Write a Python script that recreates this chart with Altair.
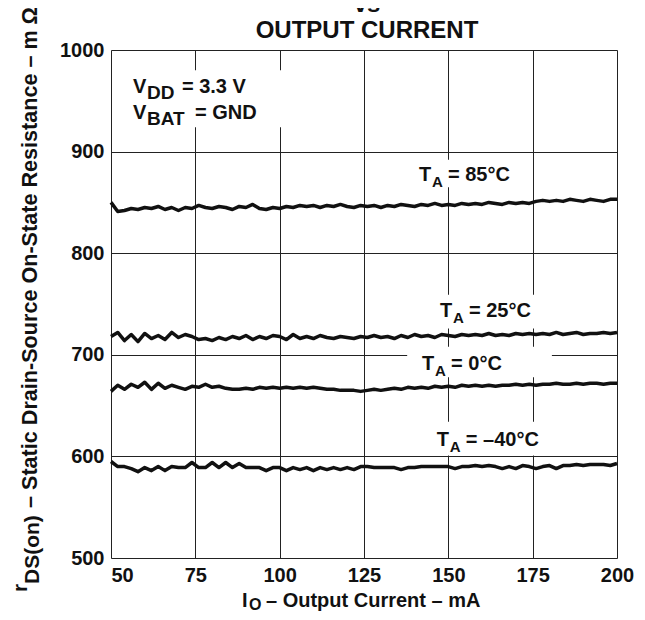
import altair as alt
import pandas as pd

# ---------------- data ----------------
current_ma = list(range(50, 201, 2))  # sampling grid, 2 mA steps

r_85C = [850, 841, 842, 844, 843, 845, 844, 846, 843, 845, 842, 845, 844, 847, 845, 844,
         846, 845, 843, 846, 845, 848, 844, 843, 845, 844, 846, 845, 847, 846, 847, 845,
         847, 846, 848, 846, 845, 847, 846, 847, 845, 847, 846, 848, 847, 846, 848, 847,
         849, 847, 848, 847, 849, 848, 849, 848, 850, 849, 848, 850, 849, 850, 849, 851,
         852, 851, 852, 851, 853, 852, 851, 853, 852, 851, 853, 853]

r_25C = [718, 722, 714, 720, 713, 721, 716, 719, 715, 722, 717, 720, 718, 715, 716, 714,
         717, 715, 718, 716, 719, 715, 718, 716, 719, 718, 715, 720, 716, 718, 716, 719,
         717, 716, 718, 717, 716, 718, 717, 719, 717, 718, 716, 719, 717, 720, 718, 719,
         717, 720, 719, 718, 720, 719, 720, 719, 721, 719, 720, 719, 721, 720, 721, 720,
         721, 720, 722, 720, 721, 722, 720, 721, 721, 722, 721, 722]

r_0C = [664, 670, 666, 671, 668, 673, 666, 672, 667, 670, 668, 666, 669, 668, 671, 668,
        669, 667, 666, 666, 667, 666, 668, 667, 668, 667, 668, 667, 668, 667, 668, 667,
        666, 666, 665, 665, 665, 664, 665, 666, 665, 666, 667, 666, 668, 667, 668, 667,
        669, 668, 669, 668, 670, 669, 670, 669, 670, 669, 670, 670, 671, 670, 671, 670,
        671, 671, 672, 671, 671, 672, 671, 672, 672, 671, 672, 672]

r_m40C = [595, 590, 590, 588, 585, 589, 586, 590, 586, 590, 589, 589, 594, 589, 589, 594,
          589, 594, 589, 593, 589, 589, 589, 586, 589, 589, 586, 589, 587, 589, 586, 589,
          587, 589, 587, 589, 587, 590, 590, 589, 589, 589, 589, 587, 589, 589, 590, 590,
          590, 590, 590, 588, 590, 590, 591, 590, 591, 590, 588, 590, 588, 591, 590, 588,
          590, 591, 588, 591, 591, 592, 591, 592, 592, 592, 591, 593]

series = {"85": r_85C, "25": r_25C, "0": r_0C, "-40": r_m40C}

rows = []
for name, vals in series.items():
    for xv, yv in zip(current_ma, vals):
        rows.append({"I": xv, "R": yv, "T": name})
df = pd.DataFrame(rows)

# label annotations: (left x in mA, baseline y in mOhm, main, subscript, rest)
temp_labels = [
    {"x": 141.3, "y": 871, "t": "T", "sub": "A", "rest": "= 85°C"},
    {"x": 147.5, "y": 737, "t": "T", "sub": "A", "rest": "= 25°C"},
    {"x": 142.2, "y": 685, "t": "T", "sub": "A", "rest": "= 0°C"},
    {"x": 146.6, "y": 610, "t": "T", "sub": "A", "rest": "= –40°C"},
]
cond_labels = [
    {"x": 56.5, "y": 957.7, "t": "V", "sub": "DD", "rest": "= 3.3 V"},
    {"x": 56.5, "y": 932.1, "t": "V", "sub": "BAT", "rest": "= GND"},
]
# white boxes behind the labels (in data units)
boxes = [
    {"x1": 52.7, "x2": 103.5, "y1": 924, "y2": 980},
    {"x1": 138.5, "x2": 172.7, "y1": 865, "y2": 892},
    {"x1": 144.6, "x2": 180.1, "y1": 726, "y2": 759},
    {"x1": 137.8, "x2": 180.7, "y1": 678, "y2": 708},
    {"x1": 143.0, "x2": 180.0, "y1": 601, "y2": 634},
]

FONT = "Liberation Sans"
W, H = 506, 508

xs = alt.Scale(domain=[50, 200], nice=False, zero=False)
ys = alt.Scale(domain=[500, 1000], nice=False, zero=False)

x_axis = alt.Axis(
    values=[50, 75, 100, 125, 150, 175, 200], title=None, grid=True, ticks=False,
    domain=False, labelFont=FONT, labelFontWeight="bold", labelFontSize=20,
    labelColor="#111", labelPadding=7, labelFlush=False, format="d",
    labelAlign={"condition": {"test": "datum.value == 50", "value": "left"}, "value": "center"},
    gridColor="#222", gridWidth=1, gridOpacity=1,
)
y_axis = alt.Axis(
    values=[500, 600, 700, 800, 900, 1000], title=None, grid=True, ticks=False,
    domain=False, labelFont=FONT, labelFontWeight="bold", labelFontSize=20,
    labelColor="#111", labelPadding=7, labelFlush=False, format="d",
    gridColor="#222", gridWidth=1, gridOpacity=1,
)

box_layer = alt.Chart(pd.DataFrame(boxes)).mark_rect(color="white").encode(
    x=alt.X("x1:Q", scale=xs, axis=x_axis), x2="x2:Q",
    y=alt.Y("y1:Q", scale=ys, axis=y_axis), y2="y2:Q",
)

lines = alt.Chart(df).mark_line(color="#111", strokeWidth=3.5, strokeJoin="round").encode(
    x=alt.X("I:Q", scale=xs),
    y=alt.Y("R:Q", scale=ys),
    detail="T:N",
)

tl = pd.DataFrame(temp_labels)
txt_kw = dict(font=FONT, fontWeight="bold", color="#111", align="left", baseline="alphabetic")
t_main = alt.Chart(tl).mark_text(fontSize=20, **txt_kw).encode(
    x=alt.X("x:Q", scale=xs), y=alt.Y("y:Q", scale=ys), text="t:N")
t_sub = alt.Chart(tl).mark_text(fontSize=15, dx=13, dy=6, **txt_kw).encode(
    x=alt.X("x:Q", scale=xs), y=alt.Y("y:Q", scale=ys), text="sub:N")
t_rest = alt.Chart(tl).mark_text(fontSize=20, dx=29, **txt_kw).encode(
    x=alt.X("x:Q", scale=xs), y=alt.Y("y:Q", scale=ys), text="rest:N")

cl = pd.DataFrame(cond_labels)
c_main = alt.Chart(cl).mark_text(fontSize=20, **txt_kw).encode(
    x=alt.X("x:Q", scale=xs), y=alt.Y("y:Q", scale=ys), text="t:N")
c_sub = alt.Chart(cl).mark_text(fontSize=19, dx=14, dy=6, **txt_kw).encode(
    x=alt.X("x:Q", scale=xs), y=alt.Y("y:Q", scale=ys), text="sub:N")
c_rest0 = alt.Chart(cl.iloc[[0]]).mark_text(fontSize=20, dx=49, **txt_kw).encode(
    x=alt.X("x:Q", scale=xs), y=alt.Y("y:Q", scale=ys), text="rest:N")
c_rest1 = alt.Chart(cl.iloc[[1]]).mark_text(fontSize=20, dx=62, **txt_kw).encode(
    x=alt.X("x:Q", scale=xs), y=alt.Y("y:Q", scale=ys), text="rest:N")

# titles (pixel positions relative to the plot area)
title_df = pd.DataFrame({"a": [0]})
def ptext(s, x, y, size, angle=0, dx=0, dy=0, align="center", font=FONT, weight="bold"):
    kw = dict(font=font, fontWeight=weight, fontSize=size, color="#111", align=align,
              baseline="alphabetic", dx=dx, dy=dy)
    if angle:
        kw["angle"] = angle
    return alt.Chart(title_df).mark_text(**kw).encode(
        x=alt.value(x), y=alt.value(y), text=alt.value(s))

t_vs = ptext("vs", 256, -38, 24)
t_oc = ptext("OUTPUT CURRENT", 256, -12, 24)

# x-axis title  I_O – Output Current – mA
t_xI = ptext("I", 131, 557, 20, align="left")
t_xO = ptext("O", 138, 560, 16, align="left")
t_xR = ptext("– Output Current – mA", 155, 557, 20, align="left")

# y-axis title (rotated)
YX, YY = -74, 542
t_yr = ptext("r", YX, YY, 21, angle=270, dx=0, dy=-10, align="left")
t_yds = ptext("DS(on)", YX, YY, 21, angle=270, dx=8, dy=2, align="left")
t_ym = ptext("– Static Drain-Source On-State Resistance – m Ω", YX, YY, 21.6, angle=270,
             dx=84, dy=0, align="left")

chart = alt.layer(
    box_layer, lines, t_main, t_sub, t_rest, c_main, c_sub, c_rest0, c_rest1,
    t_vs, t_oc, t_xI, t_xO, t_xR, t_yr, t_yds, t_ym,
).properties(
    width=W, height=H,
    autosize=alt.AutoSizeParams(type="none"),
    padding={"left": 103, "top": 42, "right": 20, "bottom": 54},
).configure_view(
    stroke="#111", strokeWidth=2.5,
).configure(background="white")

chart.save("out.html", embed_options={"renderer": "svg", "actions": False})
